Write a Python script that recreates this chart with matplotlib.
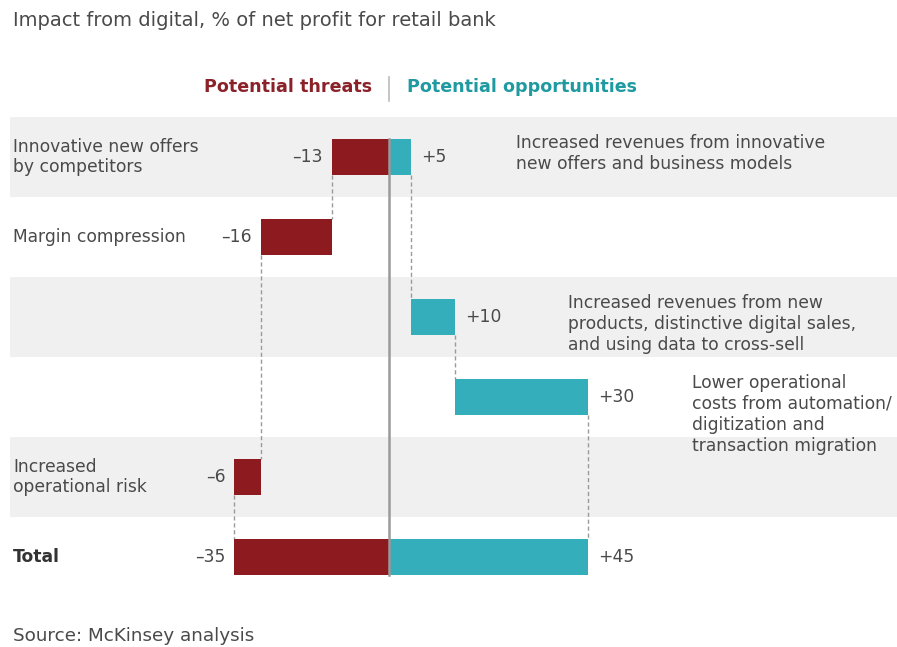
import matplotlib
matplotlib.use("Agg")
import matplotlib.pyplot as plt
from matplotlib.transforms import blended_transform_factory

# ---- data -------------------------------------------------------------
categories = [
    "Innovative new offers\nby competitors",
    "Margin compression",
    "",
    "",
    "Increased\noperational risk",
]
threats = [-13, -16, 0, 0, -6]
opportunities = [5, 0, 10, 30, 0]
opportunity_notes = [
    "Increased revenues from innovative\nnew offers and business models",
    "",
    "Increased revenues from new\nproducts, distinctive digital sales,\nand using data to cross-sell",
    "Lower operational\ncosts from automation/\ndigitization and\ntransaction migration",
    "",
]
total_label = "Total"
title = "Impact from digital, % of net profit for retail bank"
source = "Source: McKinsey analysis"
threat_header = "Potential threats"
opportunity_header = "Potential opportunities"

# ---- style ------------------------------------------------------------
RED = "#8C1A1F"
TEAL = "#33AEBA"
RED_TXT = "#8B2229"
TEAL_TXT = "#1E9AA0"
TXT = "#4A4A4A"
BAND = "#F0F0F0"
GUIDE = "#9A9A9A"
FONT = "DejaVu Sans"
FS = 12.3

W, H, DPI = 897, 647, 100
ZERO_PX, UNIT_PX = 389, 4.42        # horizontal scale
ROW0_PX, ROW_PX = 157, 80           # vertical scale
BAR_H = 0.44

fig = plt.figure(figsize=(W / DPI, H / DPI), dpi=DPI)
ax = fig.add_axes([0, 0, 1, 1])
ax.set_xlim(-ZERO_PX / UNIT_PX, (W - ZERO_PX) / UNIT_PX)
ax.set_ylim((H - ROW0_PX) / ROW_PX, -ROW0_PX / ROW_PX)
ax.axis("off")

def px_to_row(py):
    return (py - ROW0_PX) / ROW_PX

def px_to_val(px):
    return (px - ZERO_PX) / UNIT_PX

n = len(categories)
total_row = n
rows = list(range(n))
label_tf = blended_transform_factory(ax.transAxes, ax.transData)

# alternating row bands
for r in range(0, n, 2):
    ax.axhspan(r - 0.5, r + 0.5, xmin=10 / W, xmax=1, color=BAND, lw=0, zorder=0)

# waterfall bars: threats run left from zero, opportunities right
def value_text(x, y, v, side):
    if side < 0:
        ax.text(x - 2.0, y, f"\u2013{abs(v)}", ha="right", va="center",
                fontsize=FS, color=TXT, family=FONT)
    else:
        ax.text(x + 2.3, y, f"+{v}", ha="left", va="center",
                fontsize=FS, color=TXT, family=FONT)

def cascade(values, color, side):
    pos = 0
    prev = None
    for r, v in zip(rows, values):
        if v == 0:
            continue
        ax.barh(r, v, left=pos, height=BAR_H, color=color, lw=0, zorder=2)
        end = pos + v
        value_text(end, r, v, side)
        if prev is not None:
            ax.plot([pos, pos], [prev + BAR_H / 2, r - BAR_H / 2], color=GUIDE,
                    lw=1, dashes=(3, 2), zorder=1)
        prev = r
        pos = end
    total = sum(values)
    ax.barh(total_row, total, left=0, height=BAR_H, color=color, lw=0, zorder=2)
    ax.plot([pos, pos], [prev + BAR_H / 2, total_row - BAR_H / 2], color=GUIDE,
            lw=1, dashes=(3, 2), zorder=1)
    value_text(total, total_row, total, side)

cascade(threats, RED, -1)
cascade(opportunities, TEAL, +1)

# zero axis
ax.plot([0, 0], [-BAR_H / 2, total_row + BAR_H / 2], color=GUIDE, lw=1.8, zorder=3)

# category labels on the left
for r, lab in zip(rows, categories):
    if lab:
        ax.text(13 / W, r, lab, transform=label_tf, ha="left", va="center",
                fontsize=FS, color=TXT, family=FONT, linespacing=1.2)
ax.text(13 / W, total_row, total_label, transform=label_tf, ha="left",
        va="center", fontsize=FS, color="#333333", family=FONT, fontweight="bold")

# opportunity descriptions, hung from the top of each bar
note_px = {0: 516, 2: 568, 3: 692}
for r, note in zip(rows, opportunity_notes):
    if note:
        ax.text(px_to_val(note_px[r]), r - BAR_H / 2 - 0.065, note, ha="left",
                va="top", fontsize=FS, color=TXT, family=FONT, linespacing=1.2)

# column headers
hy = px_to_row(87)
ax.text(px_to_val(372), hy, threat_header, ha="right", va="center",
        fontsize=12.6, color=RED_TXT, family=FONT, fontweight="bold")
ax.text(px_to_val(407), hy, opportunity_header, ha="left", va="center",
        fontsize=12.6, color=TEAL_TXT, family=FONT, fontweight="bold")
ax.plot([0, 0], [px_to_row(77), px_to_row(101)], color="#BBBBBB", lw=1.2)

# title and source
fig.text(13 / W, 1 - 20 / H, title, ha="left", va="center", fontsize=14,
         color=TXT, family=FONT)
fig.text(13 / W, 1 - 636 / H, source, ha="left", va="center", fontsize=13.2,
         color=TXT, family=FONT)

fig.savefig("out.png", dpi=DPI, facecolor="white")
